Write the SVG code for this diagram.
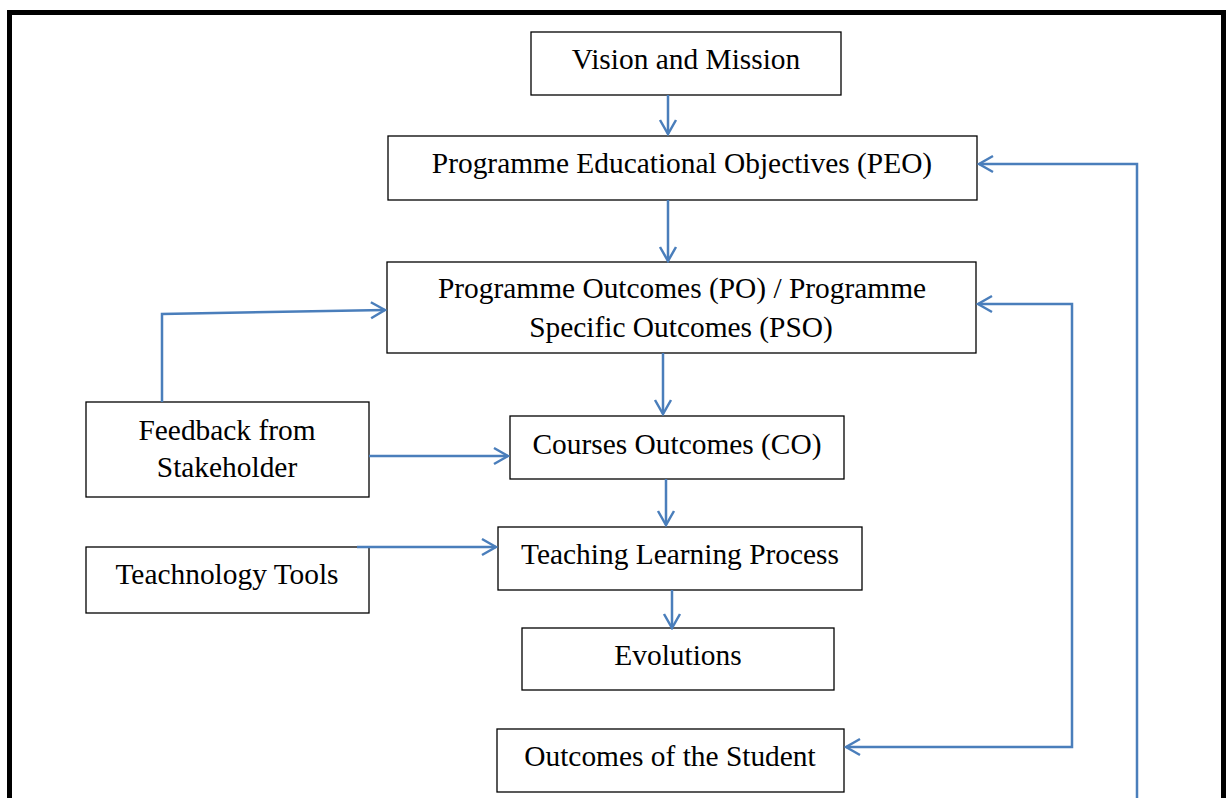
<svg xmlns="http://www.w3.org/2000/svg" width="1226" height="798" viewBox="0 0 1226 798">
<defs>
<style>
.box{fill:#fff;stroke:#000;stroke-width:1.3}
.t{font-family:"Liberation Serif","Times New Roman",serif;font-size:29.4px;fill:#000;text-anchor:middle}
.c{fill:none;stroke:#4A7EBB;stroke-width:2.5}
</style>
<marker id="ah" viewBox="0 0 20 20" refX="18" refY="10" markerWidth="20" markerHeight="20" markerUnits="userSpaceOnUse" orient="auto-start-reverse">
<path d="M4,2 L18,10 L4,18" fill="none" stroke="#4A7EBB" stroke-width="2.5"/>
</marker>
</defs>
<rect width="1226" height="798" fill="#fff"/>
<path d="M9.5,798 V12.5 H1223.5 V798" fill="none" stroke="#000" stroke-width="5"/>
<g id="vision"><rect class="box" x="531" y="32" width="310" height="63"/><text class="t" x="686" y="69">Vision and Mission</text></g>
<g id="peo"><rect class="box" x="388" y="136" width="589" height="64"/><text class="t" x="682" y="173">Programme Educational Objectives (PEO)</text></g>
<g id="po"><rect class="box" x="387" y="262" width="589" height="91"/><text class="t" x="682" y="298">Programme Outcomes (PO) / Programme</text><text class="t" x="681" y="337">Specific Outcomes (PSO)</text></g>
<g id="feedback"><rect class="box" x="86" y="402" width="283" height="95"/><text class="t" x="227" y="440">Feedback from</text><text class="t" x="227" y="477">Stakeholder</text></g>
<g id="co"><rect class="box" x="510" y="416" width="334" height="63"/><text class="t" x="677" y="454">Courses Outcomes (CO)</text></g>
<g id="tlp"><rect class="box" x="498" y="527" width="364" height="63"/><text class="t" x="680" y="564">Teaching Learning Process</text></g>
<g id="tools"><rect class="box" x="86" y="547" width="283" height="66"/><text class="t" x="227" y="584">Teachnology Tools</text></g>
<g id="evolutions"><rect class="box" x="522" y="628" width="312" height="62"/><text class="t" x="678" y="665">Evolutions</text></g>
<g id="student"><rect class="box" x="497" y="729" width="347" height="63"/><text class="t" x="670" y="766">Outcomes of the Student</text></g>
<g id="connectors">
<path class="c" d="M668,95 V134" marker-end="url(#ah)"/>
<path class="c" d="M668,200 V261" marker-end="url(#ah)"/>
<path class="c" d="M663,353 V414" marker-end="url(#ah)"/>
<path class="c" d="M666,479 V525" marker-end="url(#ah)"/>
<path class="c" d="M672,590 V628" marker-end="url(#ah)"/>
<path class="c" d="M162,402 V314 L385,310" marker-end="url(#ah)"/>
<path class="c" d="M369,456 H508" marker-end="url(#ah)"/>
<path class="c" d="M357,547 H496" marker-end="url(#ah)"/>
<path class="c" d="M1137,798 V164 H979" marker-end="url(#ah)"/>
<path class="c" d="M978,304 H1072 V747 H846" marker-start="url(#ah)" marker-end="url(#ah)"/>
</g>
</svg>
